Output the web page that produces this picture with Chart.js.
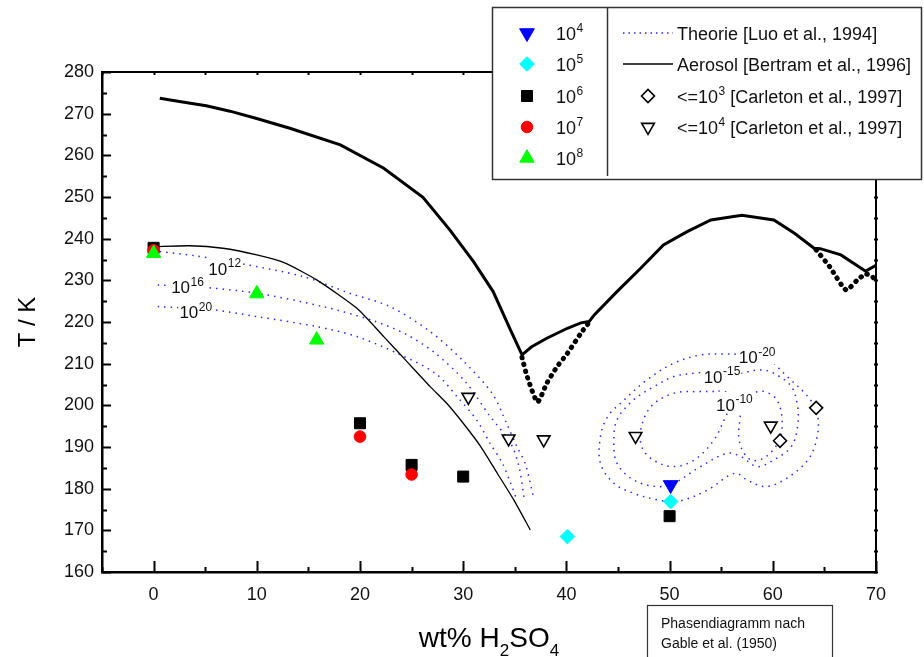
<!DOCTYPE html>
<html>
<head>
<meta charset="utf-8">
<title>Phasendiagramm H2SO4 / H2O</title>
<script src="https://cdn.jsdelivr.net/npm/chart.js@4.4.1/dist/chart.umd.min.js"></script>
<style>
  body { margin: 0; background: #fff; }
  #wrap { width: 924px; height: 657px; }
</style>
</head>
<body>
<div id="wrap"><canvas id="phaseChart" width="924" height="657"></canvas></div>
<script>
// Phasendiagramm nach Gable et al. (1950), durchgezogene Linie
const gableX = [0.6, 2.5, 5.1, 7.4, 9.9, 13.2, 18.1, 22.3, 26.1, 28.7, 31.0, 32.9, 34.6, 35.7, 36.6, 38.1, 40.1, 41.4, 42.2, 42.7, 44.9, 47.2, 49.4, 51.7, 54.0, 57.0, 60.1, 62.1, 64.0, 64.6, 66.6, 69.0, 70.0];
const gableT = [273.7, 272.9, 271.9, 270.6, 268.9, 266.5, 262.5, 256.9, 249.9, 242.1, 234.5, 227.3, 218.0, 212.1, 214.0, 216.1, 218.5, 219.8, 220.1, 221.7, 227.3, 232.9, 238.5, 241.7, 244.5, 245.6, 244.5, 241.3, 237.7, 237.6, 236.1, 232.2, 233.6];

// metastabile Aeste (dick gepunktet)
const metaX1 = [35.7, 36.2, 37.2, 38.1, 39.1, 40.1, 41.4, 42.2];
const metaT1 = [211.5, 206.9, 200.8, 205.3, 209.3, 212.5, 217.3, 219.9];
const metaX2 = [64.2, 65.5, 67.1, 68.2, 69.0, 69.6, 70.0];
const metaT2 = [237.3, 233.3, 227.7, 230.1, 231.5, 231.0, 229.7];

// Aerosol [Bertram et al., 1996]
const bertramX = [0.1, 3.5, 6.7, 10.0, 12.7, 15.8, 19.7, 22.3, 24.4, 26.8, 28.4, 30.0, 31.7, 33.3, 34.9, 36.5];
const bertramT = [238.1, 238.3, 237.7, 236.1, 234.2, 230.1, 223.3, 216.5, 210.9, 204.5, 200.5, 195.7, 190.1, 183.7, 177.3, 170.1];

// Theorie [Luo et al., 1994] - Eis
const luo12X = [0.6, 4.0, 8.3, 14.5, 19.0, 22.9, 26.8, 29.9, 32.8, 34.2, 35.2, 36.0, 36.8];
const luo12T = [236.9, 235.9, 234.1, 230.9, 226.9, 223.7, 217.7, 210.9, 202.9, 195.7, 190.1, 186.1, 178.1];
const luo16X = [0.4, 4.5, 10.0, 16.4, 21.3, 24.5, 27.3, 30.2, 32.5, 34.6, 35.4, 35.95];
const luo16T = [228.9, 228.4, 226.9, 223.7, 220.3, 217.0, 212.5, 205.7, 197.7, 190.9, 185.3, 177.0];
const luo20X = [0.4, 5.8, 10.0, 15.8, 19.7, 23.6, 27.3, 29.4, 31.3, 32.6, 33.8, 34.6, 35.2];
const luo20T = [223.7, 222.9, 221.3, 218.9, 216.5, 212.5, 207.7, 202.1, 196.5, 190.9, 186.1, 181.3, 177.3];

// Theorie [Luo et al., 1994] - NAT, geschlossene Konturen
const luoM20X = [60.1, 61.4, 63.4, 64.3, 64.3, 63.4, 61.1, 59.2, 57.5, 56.3, 53.7, 51.4, 50.1, 48.8, 46.5, 44.6, 43.3, 43.3, 44.0, 45.6, 47.8, 50.4, 53.0, 55.3, 57.0, 58.8, 60.1];
const luoM20T = [210.1, 206.9, 202.1, 198.1, 192.5, 186.9, 182.1, 180.5, 182.1, 183.7, 179.7, 177.3, 176.9, 177.3, 178.9, 181.3, 186.1, 192.5, 197.3, 201.3, 206.1, 210.1, 212.1, 212.3, 212.2, 211.6, 210.1];
const luoM15X = [56.9, 58.8, 60.1, 61.8, 62.4, 62.4, 61.8, 60.1, 58.5, 56.9, 55.6, 53.0, 50.4, 48.8, 46.5, 44.9, 44.6, 44.9, 46.5, 48.5, 50.4, 52.4, 54.6, 56.9];
const luoM15T = [207.7, 208.5, 207.7, 204.5, 199.7, 194.9, 190.1, 186.9, 185.3, 187.7, 188.5, 185.3, 181.3, 180.5, 182.1, 186.1, 191.3, 196.5, 201.3, 204.5, 206.9, 207.7, 208.1, 207.7];
const luoM10X = [54.3, 53.0, 50.4, 48.2, 47.2, 47.4, 48.6, 50.4, 52.4, 54.3, 55.6, 56.3, 57.2, 58.2, 59.2, 60.4, 60.9, 60.6, 59.3, 58.0, 57.1, 56.7, 56.8, 56.9, 56.2, 55.2, 54.3];
const luoM10T = [203.3, 203.3, 202.9, 199.7, 194.1, 189.5, 186.6, 185.3, 186.9, 191.7, 198.1, 200.6, 202.4, 203.1, 203.3, 201.3, 196.5, 191.5, 187.6, 186.8, 189.0, 192.5, 196.5, 199.7, 202.5, 203.4, 203.3];

// Messpunkte (Nukleationsraten)
const n4X = [50.1];
const n4T = [180.9];
const n5X = [40.1, 50.1];
const n5T = [168.5, 176.9];
const n6X = [0, 20, 25, 30, 50];
const n6T = [237.8, 195.7, 185.7, 182.9, 173.4];
const n7X = [0, 20, 25];
const n7T = [237.2, 192.5, 183.4];
const n8X = [0, 10, 15.8];
const n8T = [236.5, 226.8, 215.7];

// Carleton et al., 1997
const carl3X = [64.2, 60.7];
const carl3T = [199.4, 191.5];
const carl4X = [30.5, 34.4, 37.8, 46.7, 59.8];
const carl4T = [202.0, 192.0, 191.8, 192.6, 195.1];

// Beschriftung
const rateExp = ['4', '5', '6', '7', '8'];
const contourExp = ['12', '16', '20', '-20', '-15', '-10'];
const contourAtX = [5.3, 1.7, 2.5, 56.7, 53.3, 54.5];
const contourAtT = [231.3, 226.9, 220.9, 210.1, 205.4, 198.7];

const FONT = '"Liberation Sans", Arial, Helvetica, sans-serif';
const BLUE = 'rgb(40,40,255)';

const pts = (xs, ys) => xs.map((x, i) => ({ x: x, y: ys[i] }));

function marker(label, xs, ys, style, radius, color, rotation) {
  return {
    label: label,
    data: pts(xs, ys),
    pointStyle: style,
    pointRadius: radius,
    pointRotation: rotation || 0,
    pointBackgroundColor: color,
    pointBorderColor: color,
    pointBorderWidth: 1,
    showLine: false,
  };
}

function openMarker(label, xs, ys, style, radius, rotation) {
  return {
    label: label,
    data: pts(xs, ys),
    pointStyle: style,
    pointRadius: radius,
    pointRotation: rotation || 0,
    pointBackgroundColor: '#fff',
    pointBorderColor: '#000',
    pointBorderWidth: 1.6,
    showLine: false,
  };
}

function curve(label, xs, ys, color, width, dash, tension, cap) {
  return {
    label: label,
    data: pts(xs, ys),
    showLine: true,
    pointRadius: 0,
    borderColor: color,
    borderWidth: width,
    borderDash: dash,
    borderCapStyle: cap || 'butt',
    tension: tension,
    fill: false,
  };
}

// Hochgestellte Zahl zeichnen, gibt Breite zurueck
function potenz(ctx, x, y, base, exp, size, supSize, draw) {
  ctx.font = size + 'px ' + FONT;
  const w = ctx.measureText(base).width;
  if (draw !== false) ctx.fillText(base, x, y);
  ctx.font = supSize + 'px ' + FONT;
  const w2 = ctx.measureText(exp).width;
  if (draw !== false) ctx.fillText(exp, x + w + 0.5, y - size * 0.45);
  return w + 0.5 + w2;
}

// Rahmen oben/rechts und Ticks nach innen
const framePlugin = {
  id: 'frame',
  afterDatasetsDraw(chart) {
    const { ctx, chartArea: a, scales: { x, y } } = chart;
    ctx.save();
    ctx.strokeStyle = '#000';
    ctx.lineWidth = 2;
    ctx.beginPath();
    ctx.moveTo(a.left, a.top);
    ctx.lineTo(a.right, a.top);
    ctx.lineTo(a.right, a.bottom);
    ctx.stroke();
    ctx.beginPath();
    x.ticks.forEach((t) => {
      const px = Math.round(x.getPixelForValue(t.value)) + 0.5;
      const len = t.value % 10 === 0 ? 11 : 5;
      ctx.moveTo(px, a.bottom);
      ctx.lineTo(px, a.bottom - len);
      ctx.moveTo(px, a.top);
      ctx.lineTo(px, a.top + 3);
    });
    y.ticks.forEach((t) => {
      const py = Math.round(y.getPixelForValue(t.value)) + 0.5;
      const len = t.value % 10 === 0 ? 9 : 5;
      ctx.moveTo(a.left, py);
      ctx.lineTo(a.left + len, py);
      ctx.moveTo(a.right - 2, py);
      ctx.lineTo(a.right + 2, py);
    });
    ctx.stroke();
    ctx.restore();
  },
};

// Beschriftung der Theorie-Kurven
const contourLabelPlugin = {
  id: 'contourLabels',
  afterDatasetsDraw(chart) {
    const { ctx, scales: { x, y } } = chart;
    ctx.save();
    ctx.textBaseline = 'alphabetic';
    contourExp.forEach((exp, i) => {
      const px = x.getPixelForValue(contourAtX[i]);
      const py = y.getPixelForValue(contourAtT[i]);
      const w = potenz(ctx, px, py, '10', exp, 17, 12, false);
      ctx.fillStyle = '#fff';
      ctx.fillRect(px - 1, py - 19, w + 2, 20);
      ctx.fillStyle = '#111';
      potenz(ctx, px, py, '10', exp, 17, 12);
    });
    ctx.restore();
  },
};

// Achsentitel, Legende, Hinweisbox
const decorPlugin = {
  id: 'decor',
  afterDraw(chart) {
    const { ctx, chartArea: a } = chart;
    ctx.save();
    ctx.fillStyle = '#000';

    // y-Titel
    ctx.save();
    ctx.translate(28, (a.top + a.bottom) / 2);
    ctx.rotate(-Math.PI / 2);
    ctx.font = '24px ' + FONT;
    ctx.textAlign = 'center';
    ctx.textBaseline = 'middle';
    ctx.fillText('T / K', 0, 0);
    ctx.restore();

    // x-Titel mit Indizes
    const parts = [['wt% H', 0], ['2', 1], ['SO', 0], ['4', 1]];
    let total = 0;
    parts.forEach((p) => {
      ctx.font = (p[1] ? 17 : 28) + 'px ' + FONT;
      total += ctx.measureText(p[0]).width;
    });
    let cx = (a.left + a.right) / 2 - total / 2;
    const base = 647;
    ctx.textBaseline = 'alphabetic';
    parts.forEach((p) => {
      ctx.font = (p[1] ? 17 : 28) + 'px ' + FONT;
      ctx.fillText(p[0], cx, p[1] ? base + 9 : base);
      cx += ctx.measureText(p[0]).width;
    });

    // Hinweisbox
    ctx.fillStyle = '#fff';
    ctx.fillRect(647, 605, 186, 60);
    ctx.strokeStyle = '#333';
    ctx.lineWidth = 1.2;
    ctx.strokeRect(647.5, 605.5, 185, 60);
    ctx.fillStyle = '#111';
    ctx.font = '14px ' + FONT;
    ctx.fillText('Phasendiagramm nach', 661, 628);
    ctx.fillText('Gable et al. (1950)', 661, 648);

    // Legende
    ctx.fillStyle = '#fff';
    ctx.fillRect(492, 7, 430, 173);
    ctx.strokeStyle = '#333';
    ctx.lineWidth = 1.5;
    ctx.strokeRect(492.5, 7.5, 429, 172);
    ctx.beginPath();
    ctx.moveTo(607.5, 8);
    ctx.lineTo(607.5, 176);
    ctx.stroke();

    const rows = [33, 64, 96, 127, 158];
    const ds = chart.data.datasets;
    const drawPt = Chart.helpers && Chart.helpers.drawPoint;
    rows.forEach((ry, i) => {
      const d = ds[4 - i];
      ctx.fillStyle = d.pointBackgroundColor;
      ctx.strokeStyle = d.pointBorderColor;
      ctx.lineWidth = d.pointBorderWidth;
      if (drawPt) {
        drawPt(ctx, { pointStyle: d.pointStyle, radius: d.pointRadius, rotation: d.pointRotation, borderWidth: d.pointBorderWidth }, 527, ry);
      }
      ctx.fillStyle = '#111';
      potenz(ctx, 556, ry + 7, '10', rateExp[i], 18, 12);
    });

    // rechte Spalte
    ctx.lineWidth = 1.5;
    ctx.strokeStyle = BLUE;
    ctx.setLineDash([1.5, 4]);
    ctx.beginPath();
    ctx.moveTo(623, 33);
    ctx.lineTo(673, 33);
    ctx.stroke();
    ctx.setLineDash([]);
    ctx.strokeStyle = '#000';
    ctx.lineWidth = 1.3;
    ctx.beginPath();
    ctx.moveTo(623, 64);
    ctx.lineTo(673, 64);
    ctx.stroke();

    ctx.fillStyle = '#111';
    ctx.font = '18px ' + FONT;
    ctx.fillText('Theorie [Luo et al., 1994]', 677, 40);
    ctx.fillText('Aerosol [Bertram et al., 1996]', 677, 71);

    [[ds[5], 96, '3'], [ds[6], 127, '4']].forEach(([d, ry, e]) => {
      ctx.fillStyle = '#fff';
      ctx.strokeStyle = '#000';
      ctx.lineWidth = 1.6;
      if (drawPt) {
        drawPt(ctx, { pointStyle: d.pointStyle, radius: d.pointRadius, rotation: d.pointRotation, borderWidth: 1.6 }, 648, ry);
      }
      ctx.fillStyle = '#111';
      const w = potenz(ctx, 677, ry + 7, '<=10', e, 18, 12);
      ctx.font = '18px ' + FONT;
      ctx.fillText(' [Carleton et al., 1997]', 677 + w, ry + 7);
    });

    ctx.restore();
  },
};

const datasets = [
  marker('10^8', n8X, n8T, 'triangle', 8.3, '#00ff00'),
  marker('10^7', n7X, n7T, 'circle', 5.8, '#ff0000'),
  marker('10^6', n6X, n6T, 'rect', 7.8, '#000000'),
  marker('10^5', n5X, n5T, 'rectRot', 7.3, '#00ffff'),
  marker('10^4', n4X, n4T, 'triangle', 8.5, '#0000ff', 180),
  openMarker('<=10^3 [Carleton et al., 1997]', carl3X, carl3T, 'rectRot', 6.5),
  openMarker('<=10^4 [Carleton et al., 1997]', carl4X, carl4T, 'triangle', 7.3, 180),
  curve('Phasendiagramm', gableX, gableT, '#000', 3, [], 0),
  curve('metastabil 1', metaX1, metaT1, '#000', 5, [0.5, 6.5], 0.2, 'round'),
  curve('metastabil 2', metaX2, metaT2, '#000', 5, [0.5, 6.5], 0.2, 'round'),
  curve('Aerosol [Bertram et al., 1996]', bertramX, bertramT, '#000', 1.3, [], 0.2),
  curve('Theorie 10^12', luo12X, luo12T, BLUE, 1.5, [1.5, 5], 0.3),
  curve('Theorie 10^16', luo16X, luo16T, BLUE, 1.5, [1.5, 5], 0.3),
  curve('Theorie 10^20', luo20X, luo20T, BLUE, 1.5, [1.5, 5], 0.3),
  curve('Theorie 10^-20', luoM20X, luoM20T, BLUE, 1.5, [1.5, 5], 0.35),
  curve('Theorie 10^-15', luoM15X, luoM15T, BLUE, 1.5, [1.5, 5], 0.35),
  curve('Theorie 10^-10', luoM10X, luoM10T, BLUE, 1.5, [1.5, 5], 0.35),
];

const ctx = document.getElementById('phaseChart').getContext('2d');
new Chart(ctx, {
  type: 'scatter',
  data: { datasets: datasets },
  options: {
    responsive: false,
    devicePixelRatio: 1,
    animation: false,
    events: [],
    layout: { padding: { left: 0, top: 72, right: 48, bottom: 0 } },
    plugins: {
      legend: { display: false },
      tooltip: { enabled: false },
    },
    scales: {
      x: {
        type: 'linear',
        min: -5,
        max: 70,
        afterFit: (scale) => { scale.height = 85; },
        grid: { display: false, drawTicks: false },
        border: { display: true, color: '#000', width: 2.5 },
        ticks: {
          stepSize: 5,
          autoSkip: false,
          maxRotation: 0,
          padding: 12,
          color: '#111',
          font: { family: FONT, size: 18 },
          callback: (v) => (v % 10 === 0 && v >= 0 ? v : ''),
        },
      },
      y: {
        type: 'linear',
        min: 160,
        max: 280,
        afterFit: (scale) => { scale.width = 102; },
        grid: { display: false, drawTicks: false },
        border: { display: true, color: '#000', width: 2.5 },
        ticks: {
          stepSize: 5,
          autoSkip: false,
          padding: 8,
          color: '#111',
          font: { family: FONT, size: 18 },
          callback: (v) => (v % 10 === 0 ? v : ''),
        },
      },
    },
  },
  plugins: [framePlugin, contourLabelPlugin, decorPlugin],
});
</script>
</body>
</html>
